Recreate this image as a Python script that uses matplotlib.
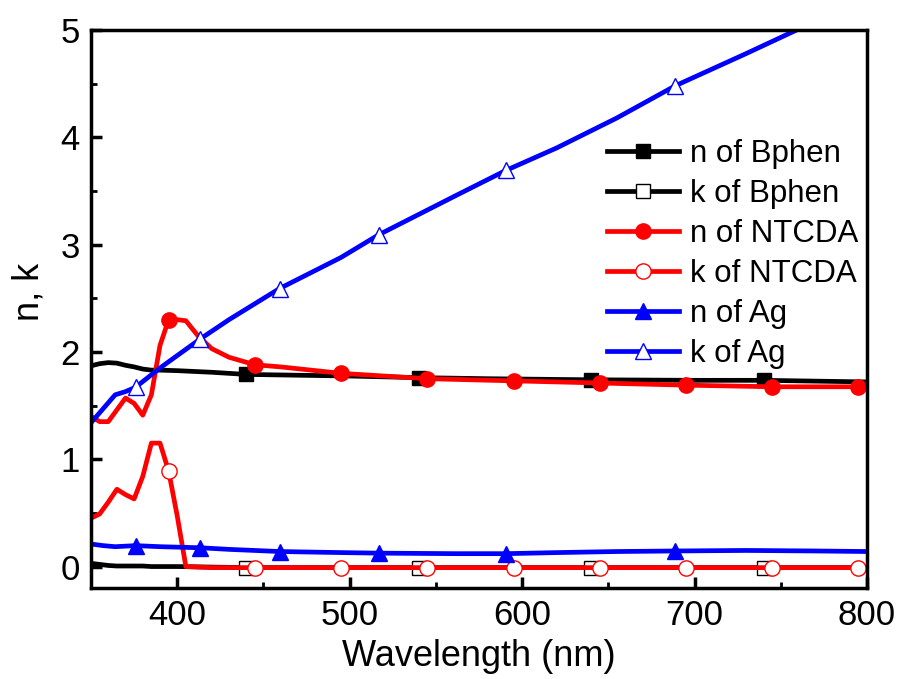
import numpy as np
import matplotlib
matplotlib.use('Agg')
import matplotlib.pyplot as plt

plt.rcParams['font.family'] = ['Liberation Sans', 'DejaVu Sans']

# Bphen
wl_bphen = [350, 355, 360, 365, 370, 375, 380, 385, 390, 400, 420, 440, 460,
            500, 540, 580, 640, 700, 740, 800]
n_bphen = [1.87, 1.89, 1.90, 1.895, 1.875, 1.86, 1.84, 1.83, 1.83, 1.825, 1.81,
           1.79, 1.785, 1.775, 1.76, 1.75, 1.74, 1.735, 1.735, 1.72]
k_bphen = [0.03, 0.02, 0.01, 0.005, 0.005, 0.005, 0.005, 0.0, 0.0, 0.0, -0.005,
           -0.01, -0.01, -0.01, -0.01, -0.01, -0.01, -0.01, -0.01, -0.01]
mark_bphen = [440, 540, 640, 740]

# NTCDA
wl_ntcda = [350, 355, 360, 365, 370, 375, 380, 385, 390, 395, 400, 405, 412,
            420, 430, 445, 460, 495, 545, 595, 645, 695, 745, 795, 800]
n_ntcda = [1.40, 1.35, 1.35, 1.46, 1.57, 1.52, 1.41, 1.60, 2.06, 2.30, 2.30,
           2.29, 2.15, 2.03, 1.95, 1.88, 1.86, 1.80, 1.75, 1.73, 1.71, 1.69,
           1.675, 1.675, 1.675]
k_ntcda = [0.45, 0.49, 0.60, 0.72, 0.67, 0.63, 0.84, 1.15, 1.15, 0.89, 0.47,
           0.0, -0.005, -0.01, -0.01, -0.01, -0.01, -0.01, -0.01, -0.01, -0.01,
           -0.01, -0.01, -0.01, -0.01]
mark_ntcda = [395, 445, 495, 545, 595, 645, 695, 745, 795]

# Ag
wl_ag = [350, 357, 364, 370, 375.8, 390, 413.3, 430, 459.3, 495, 516.7, 562,
         590.5, 620, 655, 688.9, 730, 770, 800]
n_ag = [0.21, 0.195, 0.185, 0.19, 0.195, 0.185, 0.175, 0.16, 0.14, 0.13, 0.125,
        0.12, 0.12, 0.13, 0.14, 0.145, 0.15, 0.145, 0.14]
k_ag = [1.34, 1.47, 1.60, 1.63, 1.67, 1.85, 2.12, 2.30, 2.59, 2.88, 3.09, 3.46,
        3.69, 3.90, 4.18, 4.48, 4.78, 5.08, 5.30]
mark_ag = [375.8, 413.3, 459.3, 516.7, 590.5, 688.9]


def idx(wl, marks):
    return [list(wl).index(m) for m in marks]


fig = plt.figure(figsize=(9.03, 6.79), dpi=100)
ax = fig.add_axes([0.1008, 0.134, 0.8594, 0.822])

lw = 3.4
ms = 10
ax.plot(wl_bphen, n_bphen, '-s', color='black', lw=lw, ms=ms,
        markevery=idx(wl_bphen, mark_bphen), label='n of Bphen')
ax.plot(wl_bphen, k_bphen, '-s', color='black', lw=lw, ms=ms, mfc='white',
        mec='black', mew=1, markevery=idx(wl_bphen, mark_bphen), label='k of Bphen')
ax.plot(wl_ntcda, n_ntcda, '-o', color='red', lw=lw, ms=ms + 1,
        markevery=idx(wl_ntcda, mark_ntcda), label='n of NTCDA')
ax.plot(wl_ntcda, k_ntcda, '-o', color='red', lw=lw, ms=ms + 1, mfc='white',
        mec='red', mew=1, markevery=idx(wl_ntcda, mark_ntcda), label='k of NTCDA')
ax.plot(wl_ag, n_ag, '-^', color='blue', lw=lw, ms=ms + 1,
        markevery=idx(wl_ag, mark_ag), label='n of Ag')
ax.plot(wl_ag, k_ag, '-^', color='blue', lw=lw, ms=ms + 1, mfc='white',
        mec='blue', mew=1, markevery=idx(wl_ag, mark_ag), label='k of Ag')

ax.set_xlim(350, 800)
ax.set_ylim(-0.2, 5)
ax.set_xticks([400, 500, 600, 700, 800])
ax.set_xticks(np.arange(350, 801, 50), minor=True)
ax.set_yticks([0, 1, 2, 3, 4, 5])
ax.set_yticks(np.arange(0, 5.01, 0.5), minor=True)
ax.tick_params(which='major', direction='in', length=8, width=2.5,
               labelsize=25, pad=8)
ax.tick_params(which='minor', direction='in', length=4, width=2)
for s in ax.spines.values():
    s.set_linewidth(2.5)

ax.set_xlabel('Wavelength (nm)', fontsize=26, labelpad=5)
ax.set_ylabel('n, k', fontsize=26)
ax.yaxis.set_label_coords(-0.057, 0.53)

ax.legend(loc='upper left', bbox_to_anchor=(0.665, 0.805), frameon=False,
          fontsize=22.5, handlelength=2.3, handletextpad=0.35,
          labelspacing=0.32, borderpad=0, borderaxespad=0)

fig.savefig('out.png', dpi=100)
